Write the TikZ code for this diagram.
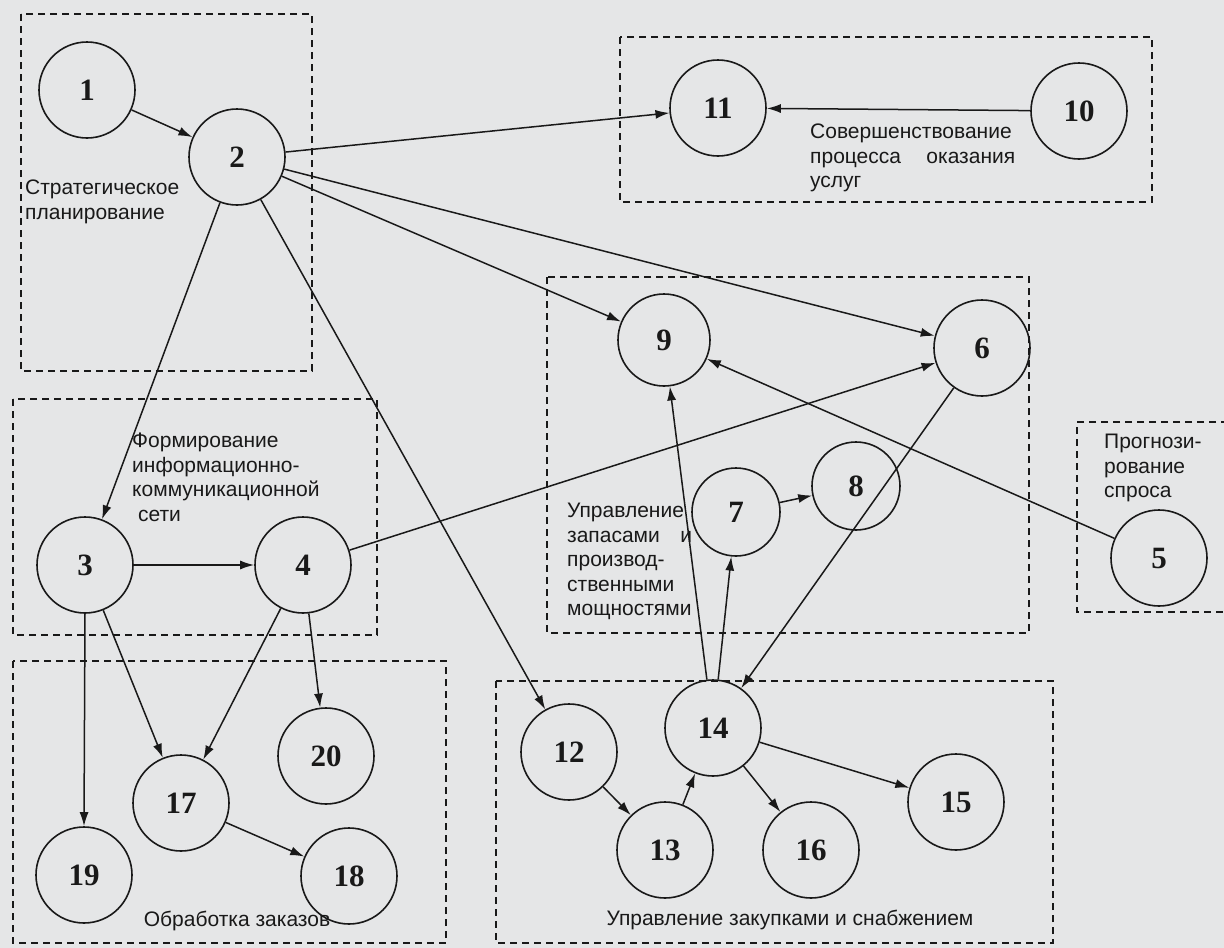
\documentclass[tikz,border=0pt]{standalone}
\usepackage{fontspec}
\setmainfont{Liberation Serif}
\setsansfont{Liberation Sans}
\usetikzlibrary{arrows.meta}
\definecolor{paper}{RGB}{229,230,231}
\definecolor{ink}{RGB}{25,25,25}
\tikzset{
  num/.style={circle,draw=ink,line width=1.6pt,minimum size=96pt,inner sep=0pt,
              font=\fontsize{31}{31}\selectfont\bfseries,text=ink},
  grp/.style={draw=ink,line width=1.8pt,dash pattern=on 7pt off 5pt},
  lbl/.style={font=\sffamily\fontsize{21}{24.5}\selectfont,text=ink,inner sep=0pt,anchor=north west,align=left},
  arr/.style={draw=ink,line width=1.5pt,-{Latex[length=14pt,width=9pt]}},
  ln/.style={draw=ink,line width=1.5pt}
}
\begin{document}
\begin{tikzpicture}[x=1pt,y=-1pt]
\fill[paper] (0,0) rectangle (1224,948);
\useasboundingbox (0,0) rectangle (1224,948);
% group boxes
\draw[grp] (21,14) rectangle (312,371);
\draw[grp] (620,37) rectangle (1152,202);
\draw[grp] (547,277) rectangle (1029,633);
\draw[grp] (1240,422) -- (1077,422) -- (1077,612) -- (1240,612);
\draw[grp] (13,399) rectangle (377,635);
\draw[grp] (13,661) rectangle (446,943);
\draw[grp] (496,681) rectangle (1053,943);
% labels
\node[lbl] (tStrat) at (25,180) {Стратегическое\\планирование};
\node[lbl] (tServ) at (810,124) {Совершенствование\\\hbox to 205pt{процесса\hfill оказания}\\услуг};
\node[lbl] (tIct) at (132,433) {Формирование\\информационно-\\коммуникационной\\\ сети};
\node[lbl] (tStock) at (567,503) {Управление\\\hbox to 125pt{запасами\hfill и}\\производ-\\ственными\\мощностями};
\node[lbl] (tFore) at (1104,434) {Прогнози-\\рование\\спроса};
\node[lbl,anchor=north] (tOrd) at (237,911) {Обработка заказов};
\node[lbl,anchor=north] (tProc) at (790,910) {Управление закупками и снабжением};
% circles
\node[num] (n1) at (87,90) {1};
\node[num] (n2) at (237,157) {2};
\node[num] (n3) at (85,565) {3};
\node[num] (n4) at (303,565) {4};
\node[num] (n5) at (1159,558) {5};
\node[num] (n6) at (982,348) {6};
\node[num,minimum size=88pt] (n7) at (736,512) {7};
\node[num,minimum size=88pt] (n8) at (856,486) {8};
\node[num,minimum size=92pt] (n9) at (664,340) {9};
\node[num] (n10) at (1079,111) {10};
\node[num] (n11) at (718,108) {11};
\node[num] (n12) at (569,752) {12};
\node[num] (n13) at (665,850) {13};
\node[num] (n14) at (713,728) {14};
\node[num] (n15) at (956,802) {15};
\node[num] (n16) at (811,850) {16};
\node[num] (n17) at (181,803) {17};
\node[num] (n18) at (349,876) {18};
\node[num] (n19) at (84,875) {19};
\node[num] (n20) at (326,756) {20};
% connectors
\draw[arr] (n1) -- (n2);
\draw[arr] (n2) -- (n11);
\draw[arr] (n10) -- (n11);
\draw[arr] (n2) -- (n9);
\draw[arr] (n2) -- (n6);
\draw[arr] (n2) -- (n3);
\draw[arr] (n2) -- (n12);
\draw[arr] (n3) -- (n4);
\draw[arr] (n3.south) -- (n19.north);
\draw[arr] (n3) -- (n17);
\draw[arr] (n4) -- (n6);
\draw[arr] (n4) -- (n17);
\draw[arr] (n4) -- (n20);
\draw[arr] (n5) -- (n9);
\draw[arr] (n14) -- (n9);
\draw[arr] (n14) -- (n7);
\draw[arr] (n6) -- (n14);
\draw[arr] (n7) -- (n8);
\draw[arr] (n12) -- (n13);
\draw[arr] (n13) -- (n14);
\draw[arr] (n14) -- (n16);
\draw[arr] (n14) -- (n15);
\draw[arr] (n17) -- (n18);
\end{tikzpicture}
\end{document}
